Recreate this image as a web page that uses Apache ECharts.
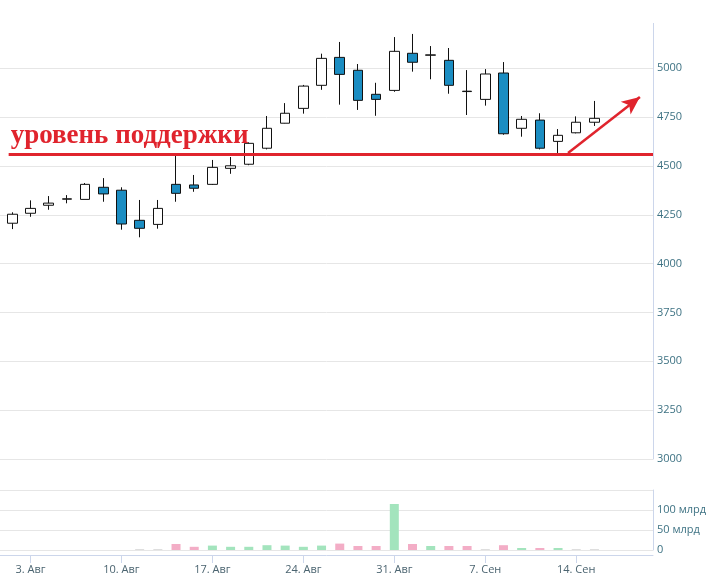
<!DOCTYPE html>
<html><head><meta charset="utf-8">
<script src="https://cdn.jsdelivr.net/npm/echarts@6/dist/echarts.min.js"></script>
<style>html,body{margin:0;padding:0;background:#fff}#c{width:721px;height:578px}</style>
</head><body><div id="c"></div>
<script>
// trading days (ordinal axis: one slot per trading day)
const dates = ['31.07','03.08','04.08','05.08','06.08','07.08','10.08','11.08','12.08','13.08','14.08',
  '17.08','18.08','19.08','20.08','21.08','24.08','25.08','26.08','27.08','28.08',
  '31.08','01.09','02.09','03.09','04.09','07.09','08.09','09.09','10.09','11.09','14.09','15.09'];
const opens  = [4207,4258,4299,4330,4329,4391,4376,4222,4201,4406,4403,4406,4488,4509,4591,4719,4795,4913,5056,4990,4867,4887,5077,5067,5041,4883,4841,4976,4693,4735,4626,4670,4724];
const closes = [4253,4283,4310,4332,4406,4357,4203,4181,4283,4360,4386,4493,4501,4616,4693,4770,4909,5051,4969,4836,4841,5087,5031,5069,4913,4881,4971,4665,4739,4591,4657,4724,4744];
const lows   = [4177,4240,4276,4309,4329,4317,4174,4135,4179,4317,4368,4403,4460,4504,4585,4718,4768,4890,4814,4787,4757,4880,4983,4944,4870,4761,4809,4660,4650,4585,4565,4667,4705];
const highs  = [4263,4324,4346,4351,4413,4438,4391,4326,4326,4553,4454,4531,4546,4621,4756,4822,4915,5075,5135,5022,4926,5160,5176,5114,5104,4991,4996,5032,4756,4770,4689,4754,4833];
// volume, billions
const volumes = [0,0,0,0,0,0,0,2,2,15,8,11,8,8,12,11,8,11,16,10,10,115,15,10,10,10,2,12,5,5,5,2,2];

const xTickIdx = [1,6,11,16,21,26,31];
const xTickLabels = ['3. Авг','10. Авг','17. Авг','24. Авг','31. Авг','7. Сен','14. Сен'];
const priceTicks = [3000,3250,3500,3750,4000,4250,4500,4750,5000];
const volTicks = [0,50,100,150];
const volLabelTicks = [0,50,100];
const supportLevel = 4559;
const supportLabel = 'уровень поддержки';
const arrowStart = [30.55, 4567];
const arrowEnd = [34.5, 4853];

const xMin = -0.676, xMax = 35.22;
const RED = '#e0242d';
const FONT = '"Open Sans", sans-serif';

const candleData = dates.map((d, i) => [i, opens[i], closes[i], lows[i], highs[i]]);
const volData = dates.map((d, i) => {
  const up = closes[i] >= opens[i];
  const col = volumes[i] < 3 ? '#d6d6d6' : (up ? '#a3e4bd' : '#f3adc6');
  return { value: [i, volumes[i]], itemStyle: { color: col } };
});

const chart = echarts.init(document.getElementById('c'), null, { renderer: 'canvas' });
chart.setOption({
  animation: false,
  backgroundColor: '#ffffff',
  grid: [
    { left: 0, right: 68, top: 23.4, bottom: 119 },
    { left: 0, right: 68, top: 490, bottom: 28 }
  ],
  xAxis: [
    { type: 'value', gridIndex: 0, min: xMin, max: xMax, show: false },
    { type: 'value', gridIndex: 1, min: xMin, max: xMax, offset: 5,
      axisLine: { show: true, onZero: false, lineStyle: { color: '#ccd6eb' } },
      axisTick: { show: true, length: 8, customValues: xTickIdx, lineStyle: { color: '#ccd6eb' } },
      axisLabel: { customValues: xTickIdx, margin: 9, color: '#4b6470', fontFamily: FONT, fontSize: 11,
        formatter: v => xTickLabels[xTickIdx.indexOf(Math.round(v))] || '' },
      splitLine: { show: false } }
  ],
  yAxis: [
    { type: 'value', gridIndex: 0, position: 'right', min: 3000, max: 5230,
      axisLine: { show: true, onZero: false, lineStyle: { color: '#ccd6eb' } },
      axisTick: { show: false, customValues: priceTicks },
      axisLabel: { customValues: priceTicks, margin: 4, color: '#3f7384', fontFamily: FONT, fontSize: 11,
        formatter: v => String(Math.round(v)) },
      splitLine: { show: true, lineStyle: { color: '#e6e6e6', width: 1 } } },
    { type: 'value', gridIndex: 1, position: 'right', min: 0, max: 150,
      axisLine: { show: true, onZero: false, lineStyle: { color: '#ccd6eb' } },
      axisTick: { show: false, customValues: volTicks },
      axisLabel: { customValues: volLabelTicks, margin: 4, color: '#3f7384', fontFamily: FONT, fontSize: 11,
        formatter: v => v === 0 ? '0' : v + ' млрд' },
      splitLine: { show: true, lineStyle: { color: '#e6e6e6', width: 1 } } }
  ],
  series: [
    { type: 'candlestick', xAxisIndex: 0, yAxisIndex: 0, data: candleData, barWidth: 10, clip: false,
      itemStyle: { color: '#ffffff', color0: '#1b8dc2', borderColor: '#111111', borderColor0: '#111111', borderWidth: 1 },
      markLine: {
        silent: true, animation: false, symbol: ['none', 'none'], symbolSize: [12, 18],
        data: [
          [ { coord: [-0.2, supportLevel], lineStyle: { color: RED, width: 3, type: 'solid' },
              label: { show: true, position: 'insideStartTop', formatter: supportLabel, color: RED,
                fontFamily: '"Liberation Serif", serif', fontWeight: 'bold', fontSize: 27, distance: [2, 5] } },
            { coord: [xMax, supportLevel] } ],
          [ { coord: arrowStart, symbol: 'none', lineStyle: { color: RED, width: 2.5, type: 'solid' }, label: { show: false } },
            { coord: arrowEnd, symbol: 'arrow' } ]
        ]
      }
    },
    { type: 'bar', xAxisIndex: 1, yAxisIndex: 1, data: volData, barWidth: 9 }
  ]
});
</script></body></html>
